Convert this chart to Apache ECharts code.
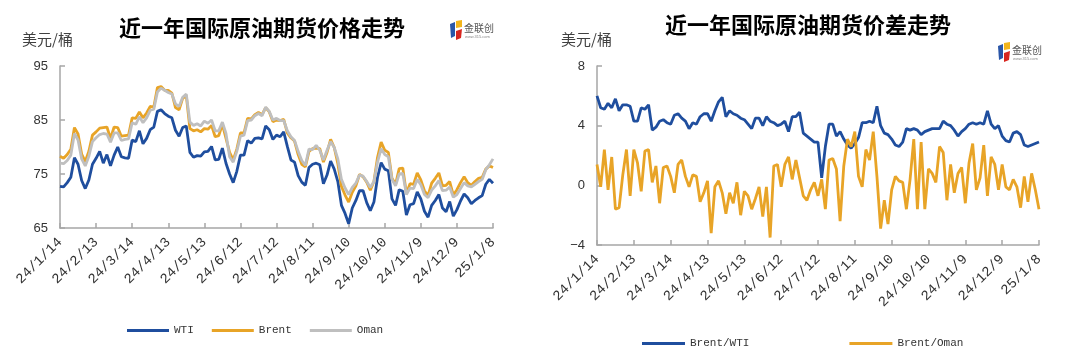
<!DOCTYPE html>
<html><head><meta charset="utf-8">
<script src="https://cdn.jsdelivr.net/npm/echarts@6/dist/echarts.min.js"></script>
<style>html,body{margin:0;padding:0;background:#fff}#c{width:1069px;height:356px}</style>
</head><body><div id="c"></div>
<script>
const tickLabels = ['24/1/14','24/2/13','24/3/14','24/4/13','24/5/13','24/6/12','24/7/12','24/8/11','24/9/10','24/10/10','24/11/9','24/12/9','25/1/8'];
const wti = [72.7,72.6,73.4,74.4,78.0,76.8,73.8,72.3,73.9,76.8,
77.9,79.2,77.0,78.6,76.5,78.5,80.0,78.2,78.0,77.9,
81.3,81.0,83.0,80.6,81.6,83.2,83.7,86.6,86.9,86.2,
85.7,85.4,83.1,82.0,83.6,83.9,79.0,78.1,78.4,78.3,
79.1,79.2,80.1,77.6,77.7,79.8,77.0,75.0,73.4,75.5,
78.5,78.5,81.2,80.7,81.6,81.7,81.5,83.9,83.2,81.4,
82.2,81.9,82.8,80.1,77.6,77.2,74.7,73.5,72.9,76.2,
76.8,77.0,76.7,73.2,74.8,77.4,75.9,73.6,69.2,67.7,
65.8,68.7,70.1,71.9,71.9,69.7,68.2,69.8,74.4,77.1,
75.9,75.6,70.4,69.2,72.1,71.8,67.4,69.3,69.5,71.7,
70.4,68.1,67.0,69.2,70.1,71.2,68.7,68.0,69.9,67.2,
68.4,70.0,71.3,70.6,69.5,70.1,70.6,71.0,73.1,74.0,
73.3];
const brent = [78.3,77.9,78.6,79.6,83.6,82.4,78.7,77.3,79.2,82.2,
82.8,83.5,83.6,83.7,81.6,83.7,83.6,82.0,82.1,82.2,
85.4,85.3,86.5,85.4,86.3,87.5,87.4,91.0,91.2,90.5,
90.5,90.0,87.3,86.9,89.0,89.5,83.4,83.0,83.2,82.8,
83.4,83.3,84.0,81.9,82.1,84.2,81.6,79.0,77.6,79.6,
82.6,82.6,85.3,85.2,86.0,86.4,86.0,87.3,86.5,84.7,
85.0,84.9,85.1,82.6,81.7,81.1,78.6,76.8,76.3,79.2,
79.7,79.8,79.7,77.2,79.0,81.4,79.9,76.9,72.7,71.1,
69.8,71.6,72.8,74.9,74.5,73.5,72.0,73.6,78.1,80.9,
79.4,79.0,74.2,73.1,76.0,76.1,71.4,73.2,73.1,75.2,
73.9,71.9,71.0,73.3,74.2,75.2,72.8,72.9,73.6,71.1,
72.1,73.4,74.5,73.4,72.9,73.6,74.2,74.4,75.9,76.5,
76.2];
const oman = [77.0,76.9,77.5,78.5,82.5,81.3,77.8,76.5,78.3,81.0,
81.7,82.3,82.5,82.4,80.9,82.6,82.6,81.2,81.4,81.5,
84.5,84.2,85.6,84.5,85.4,86.8,87.0,90.2,90.9,90.5,
90.1,89.8,88.0,87.5,89.2,89.8,84.6,84.0,84.3,83.9,
84.8,84.4,85.0,83.0,83.0,84.6,82.5,78.2,77.2,79.2,
82.0,82.2,84.9,85.0,85.8,86.2,85.8,87.4,86.6,85.0,
85.3,84.9,84.9,83.0,81.9,81.2,79.2,77.5,76.6,79.6,
79.5,80.3,79.4,77.6,79.4,81.0,79.9,77.8,74.0,72.4,
71.2,72.5,73.3,74.8,74.6,73.6,72.5,73.6,77.2,79.7,
78.6,78.2,74.0,72.8,75.0,75.1,71.2,72.4,72.3,74.0,
73.0,71.2,70.6,72.0,72.8,73.8,71.9,72.0,72.6,70.7,
71.2,72.3,73.4,72.8,72.6,73.1,73.6,74.0,75.8,76.7,
77.8];
const brentWti = [6.0,5.2,5.1,5.5,5.2,5.8,5.0,5.4,5.4,5.3,
4.3,4.3,5.2,5.1,5.4,3.7,3.9,4.3,4.4,4.2,
4.1,4.7,4.8,4.5,4.3,3.8,4.2,4.1,4.6,4.8,
4.8,4.3,5.0,5.6,5.9,4.6,5.0,4.8,4.7,4.5,
4.4,4.1,3.8,4.5,4.5,4.0,4.6,4.3,4.2,4.0,
4.1,4.3,3.6,4.6,4.6,4.9,3.5,3.3,3.1,2.9,
2.9,0.5,2.6,4.1,4.1,3.3,3.6,3.1,2.7,2.5,
2.8,3.2,4.2,4.2,4.3,4.2,5.3,4.0,3.5,3.4,
3.1,2.7,2.6,2.9,3.8,3.7,3.8,3.7,3.4,3.6,
3.7,3.8,3.8,3.8,4.3,4.1,4.0,3.7,3.3,3.6,
3.8,4.1,4.2,4.1,4.2,4.1,5.0,4.1,3.8,4.0,
3.3,3.0,2.9,3.5,3.6,3.4,2.7,2.6,2.7,2.8,
2.9];
const brentOman = [1.4,-0.1,2.4,-0.3,1.9,-1.6,-1.5,0.7,2.4,-0.7,
2.4,1.5,-0.4,2.3,2.4,0.2,1.3,-1.2,1.2,1.3,
0.6,-0.5,1.4,1.7,0.6,-0.1,0.7,0.6,-1.1,-0.5,
0.3,-3.2,-0.1,0.3,-0.5,-1.9,-0.5,-1.2,0.2,-2.0,
-0.4,-0.7,-1.6,-0.9,-0.1,-2.1,-0.1,-3.5,1.3,1.4,
-0.1,1.4,1.9,0.4,1.7,0.5,-0.7,-1.0,-0.3,0.2,
-0.7,0.4,-1.6,1.7,1.8,1.1,-2.4,1.3,3.1,2.6,
3.6,0.6,-0.1,2.4,1.7,3.6,0.6,-2.9,-1.0,-2.6,
-0.3,0.6,0.3,0.2,-1.6,0.4,3.1,-1.6,2.9,-1.6,
1.1,0.8,0.2,2.6,2.2,-1.0,1.4,-0.5,0.8,1.2,
-1.2,1.5,2.8,-0.3,0.5,2.7,-0.7,1.9,1.4,-0.3,
1.4,-0.1,-0.3,0.4,-0.1,-1.5,0.6,-1.1,0.8,-0.3,
-1.6];
const yTicks1 = [65,75,85,95];
const yTicks2 = [-4,0,4,8];

// category axis: every 3 calendar days from 2024-01-14
const categories = [];
const t0 = Date.UTC(2024,0,14);
for (let i = 0; i < wti.length; i++) {
  const d = new Date(t0 + i*3*86400000);
  categories.push((d.getUTCFullYear()%100) + '/' + (d.getUTCMonth()+1) + '/' + d.getUTCDate());
}

const BLUE = '#1f4e9e', ORANGE = '#e8a427', GRAY = '#bfbfbf', AXIS = '#a6a6a6';

function xAx(gi) {
  return {
    type: 'category', gridIndex: gi, data: categories, boundaryGap: false,
    axisLine: {onZero: false, lineStyle: {color: AXIS, width: 1.5}},
    axisTick: {inside: true, length: 5, interval: 9, lineStyle: {color: AXIS, width: 1.5}},
    axisLabel: {interval: 9, rotate: 45, margin: 12, fontFamily: 'Liberation Mono', fontSize: 14, color: '#333',
      formatter: (v, idx) => (idx % 10 === 0 && tickLabels[idx/10]) ? tickLabels[idx/10] : v},
    splitLine: {show: false}
  };
}
function yAx(gi, mn, mx, iv, ticks) {
  return {
    type: 'value', gridIndex: gi, min: mn, max: mx, interval: iv,
    axisLine: {show: true, onZero: false, lineStyle: {color: AXIS, width: 1.5}},
    axisTick: {show: true, inside: true, length: 5, customValues: ticks, lineStyle: {color: AXIS, width: 1.5}},
    axisLabel: {customValues: ticks, margin: 12, fontFamily: 'Liberation Sans', fontSize: 13, color: '#333',
      formatter: v => String(v).replace('-', '\u2212')},
    splitLine: {show: false}
  };
}
function line(name, xi, data, color) {
  return {name, type: 'line', xAxisIndex: xi, yAxisIndex: xi, data, showSymbol: false, symbol: 'none',
    lineStyle: {width: 2.8, color}, itemStyle: {color}, emphasis: {disabled: true}};
}
function logo(x, y) {
  return {type: 'group', x, y, children: [
    {type: 'polygon', shape: {points: [[0,4],[5,2],[5,16],[1,18]]}, style: {fill: '#2a56a8'}},
    {type: 'polygon', shape: {points: [[6,1],[12,0],[12,7],[6,8]]}, style: {fill: '#f2b51c'}},
    {type: 'polygon', shape: {points: [[6,11],[12,9],[11,18],[6,20]]}, style: {fill: '#d8261f'}},
    {type: 'text', x: 14, y: 3, style: {text: '金联创', font: '10px "Noto Sans CJK SC"', fill: '#555'}},
    {type: 'text', x: 15, y: 15, style: {text: 'www.315.com', font: '4px sans-serif', fill: '#888'}}
  ]};
}
const legText = {fontFamily: 'Liberation Mono', fontSize: 11, color: '#333'};

const chart = echarts.init(document.getElementById('c'), null, {renderer: 'canvas'});
chart.setOption({
  animation: false,
  backgroundColor: '#fff',
  grid: [
    {left: 60, top: 66, width: 433, height: 162},
    {left: 597, top: 66, width: 442, height: 179}
  ],
  xAxis: [xAx(0), xAx(1)],
  yAxis: [yAx(0, 65, 95, 10, yTicks1), yAx(1, -4, 8, 4, yTicks2)],
  legend: [
    {data: ['WTI','Brent','Oman'], left: 122, top: 320, icon: 'rect', itemWidth: 42, itemHeight: 3, itemGap: 18, textStyle: legText, selectedMode: false},
    {data: ['Brent/WTI','Brent/Oman'], left: 637, top: 333, icon: 'rect', itemWidth: 43, itemHeight: 3, itemGap: 100, textStyle: legText, selectedMode: false}
  ],
  series: [
    line('WTI', 0, wti, BLUE),
    line('Brent', 0, brent, ORANGE),
    line('Oman', 0, oman, GRAY),
    line('Brent/WTI', 1, brentWti, BLUE),
    line('Brent/Oman', 1, brentOman, ORANGE)
  ],
  graphic: [
    {type: 'text', x: 262, y: 28, style: {text: '近一年国际原油期货价格走势', font: 'bold 22px "Noto Sans CJK SC"', fill: '#000', textAlign: 'center', textVerticalAlign: 'middle'}},
    {type: 'text', x: 808, y: 25, style: {text: '近一年国际原油期货价差走势', font: 'bold 22px "Noto Sans CJK SC"', fill: '#000', textAlign: 'center', textVerticalAlign: 'middle'}},
    {type: 'text', x: 22, y: 39, style: {text: '美元/桶', font: '15px "Noto Sans CJK SC"', fill: '#404040', textVerticalAlign: 'middle'}},
    {type: 'text', x: 561, y: 39, style: {text: '美元/桶', font: '15px "Noto Sans CJK SC"', fill: '#404040', textVerticalAlign: 'middle'}},
    logo(450, 20),
    logo(998, 42)
  ]
});
</script></body></html>
